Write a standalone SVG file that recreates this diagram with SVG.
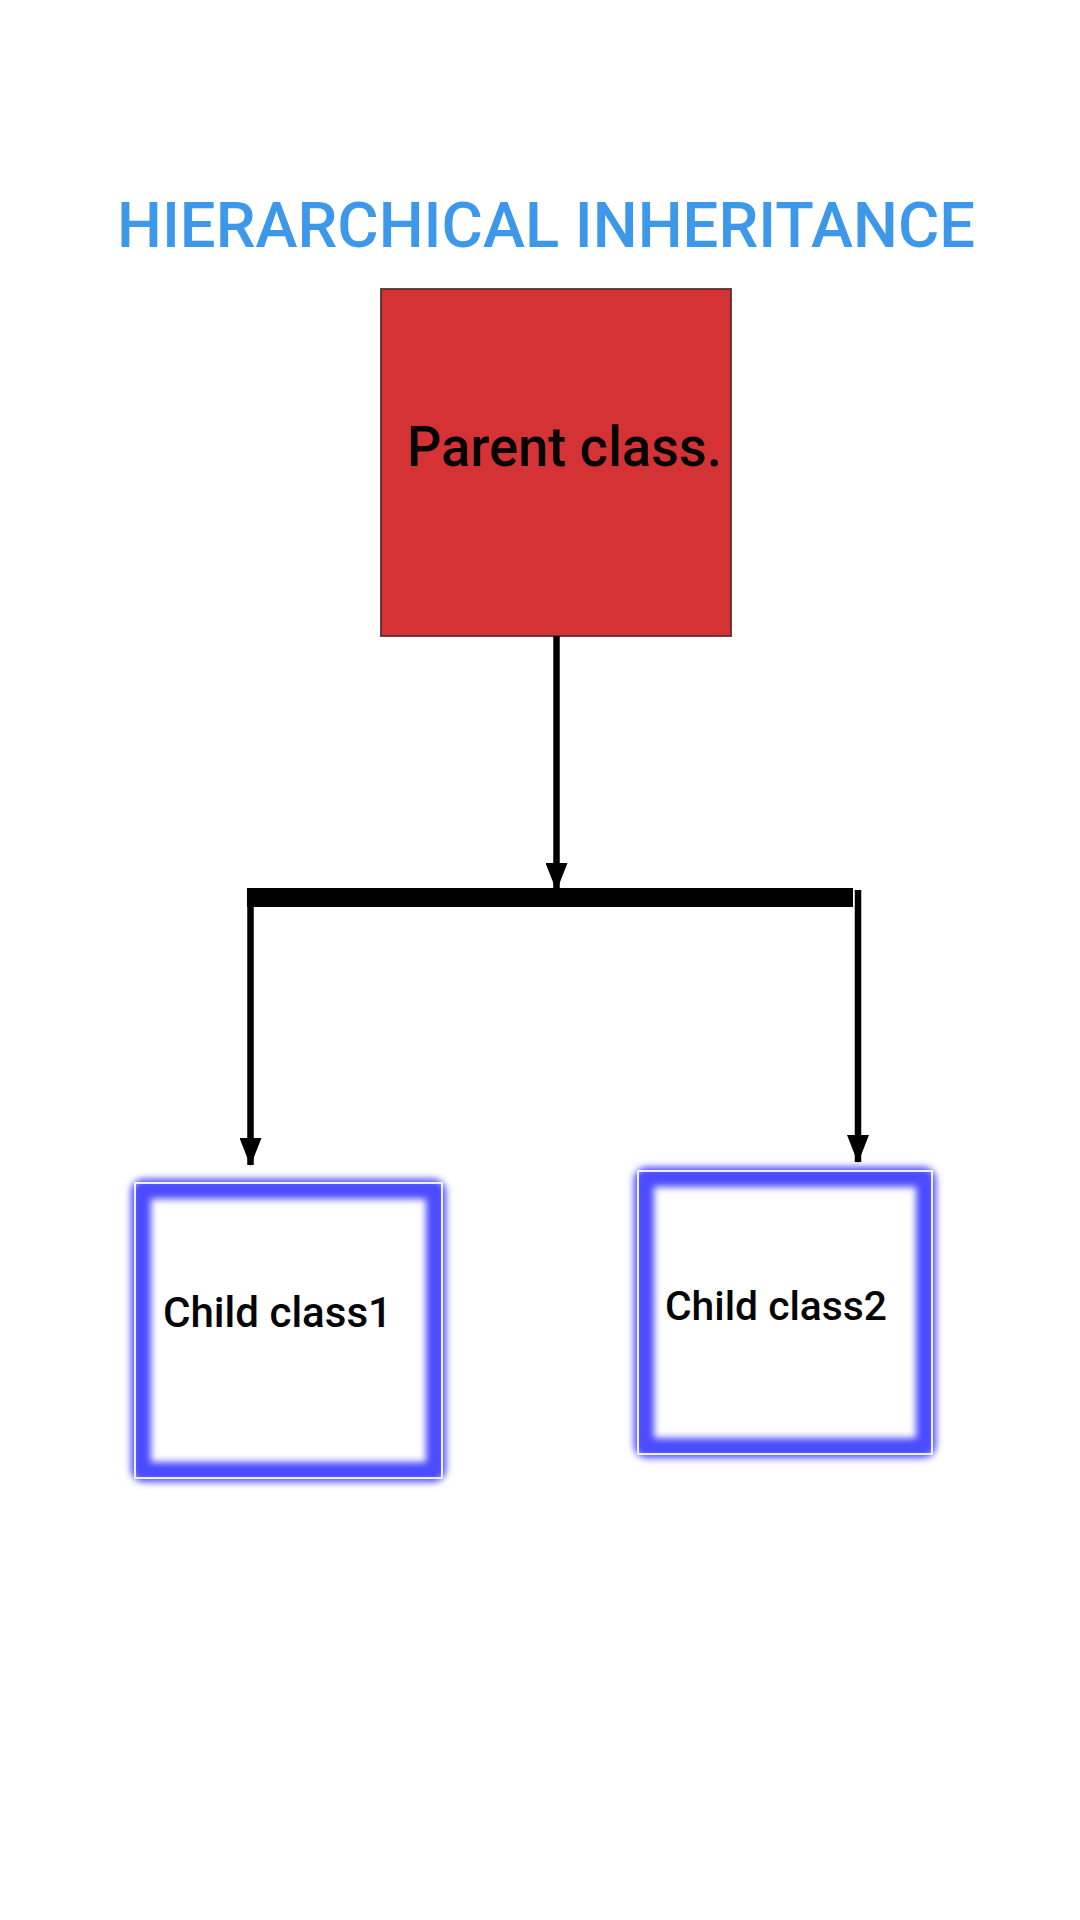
<svg xmlns="http://www.w3.org/2000/svg" width="1080" height="1920" viewBox="0 0 1080 1920">
<defs>
<style>
.title{font-family:Roboto,"Liberation Sans",sans-serif;font-size:63px;font-weight:500;fill:#3d98ea;}
.lbl{font-family:Roboto,"Liberation Sans",sans-serif;font-weight:500;fill:#050505;}
.glow{fill:none;stroke:#4b4bff;stroke-width:20;filter:url(#blur);}
.edge{fill:none;stroke:#eef0ff;stroke-width:2;}
.conn{stroke:#000;stroke-width:6.5;fill:none;}
</style>
<filter id="blur" x="-20%" y="-20%" width="140%" height="140%"><feGaussianBlur stdDeviation="3.5"/></filter>
<marker id="arr" viewBox="0 0 28 22" refX="27" refY="11" markerWidth="28" markerHeight="22" markerUnits="userSpaceOnUse" orient="auto">
<path d="M0,0 L28,11 L0,22 Z" fill="#000"/>
</marker>
</defs>
<rect width="1080" height="1920" fill="#fff"/>
<text class="title" x="117" y="247" textLength="858" lengthAdjust="spacingAndGlyphs">HIERARCHICAL INHERITANCE</text>
<g id="parent">
<rect x="381" y="289" width="350" height="347" fill="#d43234" stroke="#5a3030" stroke-width="1.8"/>
<text class="lbl" x="407" y="466" font-size="55" textLength="315" lengthAdjust="spacingAndGlyphs">Parent class.</text>
</g>
<g id="child1">
<rect class="glow" x="141" y="1189" width="295" height="283" rx="3"/>
<rect class="edge" x="135" y="1183" width="307" height="295"/>
<text class="lbl" x="163" y="1327" font-size="42" textLength="229" lengthAdjust="spacingAndGlyphs">Child class1</text>
</g>
<g id="child2">
<rect class="glow" x="644" y="1177" width="282" height="271" rx="3"/>
<rect class="edge" x="638" y="1171" width="294" height="283"/>
<text class="lbl" x="665" y="1320" font-size="40" textLength="222" lengthAdjust="spacingAndGlyphs">Child class2</text>
</g>
<g id="connectors">
<line class="conn" x1="556.5" y1="636" x2="556.5" y2="890" marker-end="url(#arr)"/>
<rect x="247" y="888" width="606" height="19" fill="#000"/>
<line class="conn" x1="250.5" y1="888" x2="250.5" y2="1165" marker-end="url(#arr)"/>
<line class="conn" x1="858" y1="890" x2="858" y2="1162" marker-end="url(#arr)"/>
</g>
</svg>
